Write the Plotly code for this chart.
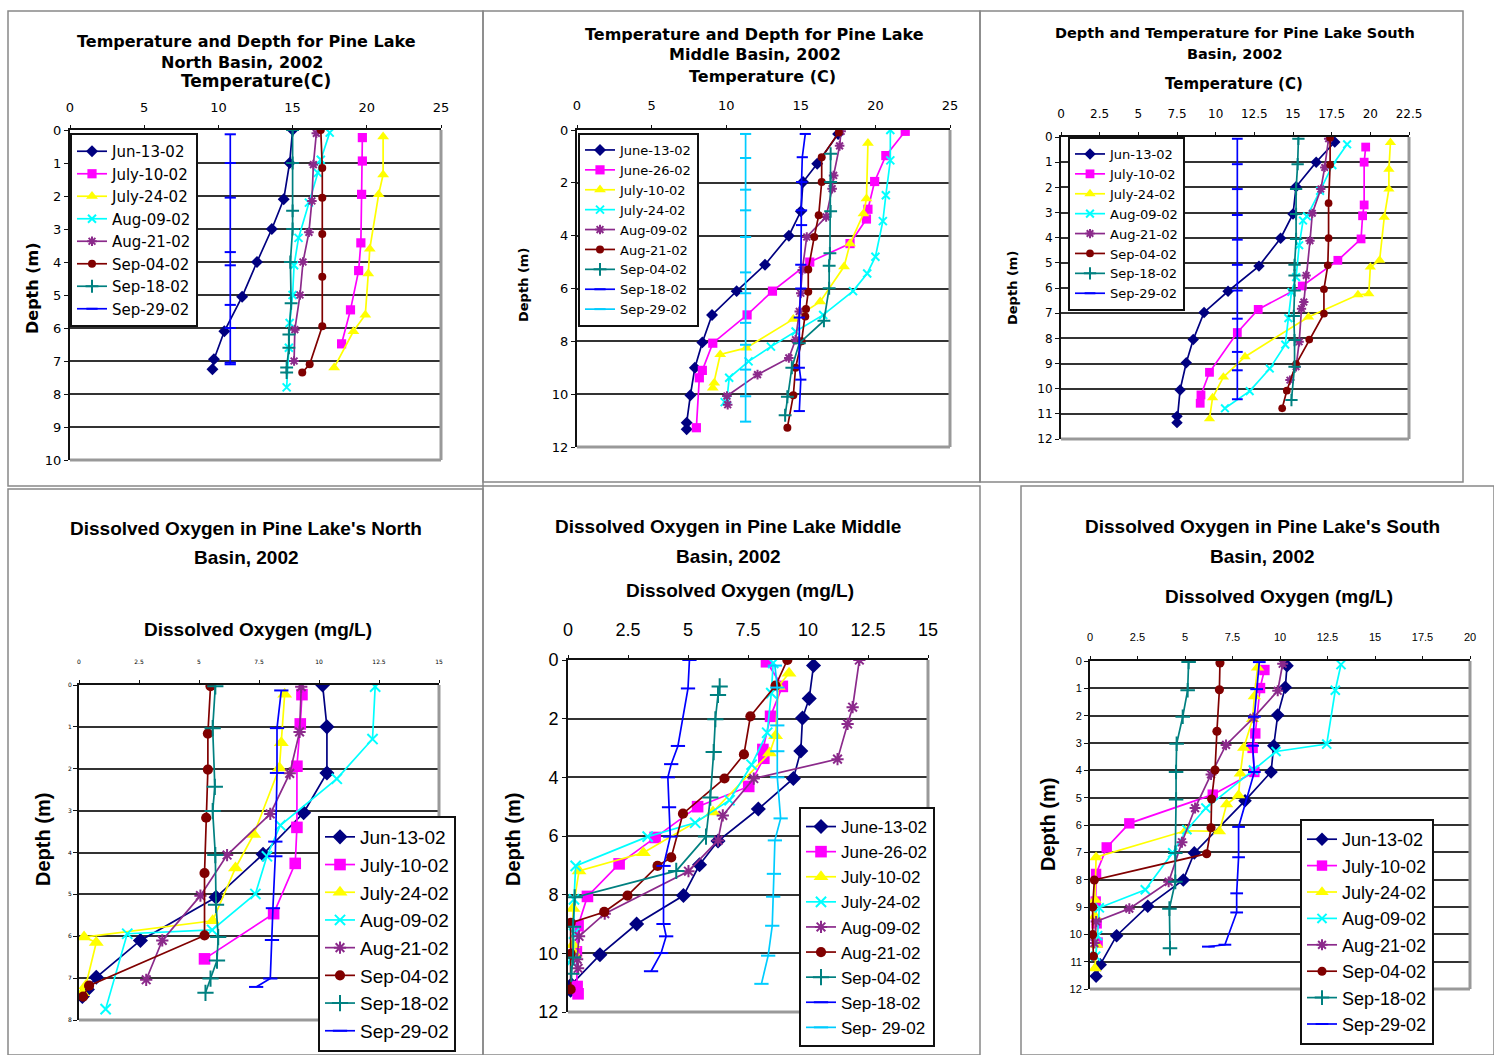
import plotly.graph_objects as go

W, H = 1494, 1055

# ================= DATA =================
# --- Panel 1: Temperature, North Basin (x = temperature C, y = depth m)
tn_dates = ["Jun-13-02", "July-10-02", "July-24-02", "Aug-09-02", "Aug-21-02", "Sep-04-02", "Sep-18-02", "Sep-29-02"]
tn_jun13_d = [0, 1.0, 2.1, 3.0, 4.0, 5.05, 6.1, 6.95, 7.25]
tn_jun13_v = [15.0, 14.8, 14.4, 13.6, 12.6, 11.6, 10.4, 9.7, 9.6]
tn_jul10_d = [0.23, 0.94, 1.95, 3.42, 4.26, 5.45, 6.48]
tn_jul10_v = [19.7, 19.7, 19.65, 19.6, 19.45, 18.9, 18.3]
tn_jul24_d = [0.2, 1.35, 1.95, 3.6, 4.35, 5.6, 6.1, 7.2]
tn_jul24_v = [21.1, 21.1, 20.8, 20.2, 20.1, 19.9, 19.1, 17.8]
tn_aug09_d = [0.08, 0.9, 1.3, 2.2, 3.27, 4.1, 5.0, 5.85, 6.6, 7.8]
tn_aug09_v = [17.5, 16.9, 16.7, 16.1, 15.4, 15.1, 15.0, 14.8, 14.75, 14.6]
tn_aug21_d = [0.1, 1.05, 2.15, 3.1, 4.0, 5.0, 6.05, 7.0]
tn_aug21_v = [16.6, 16.4, 16.3, 16.1, 15.7, 15.5, 15.15, 15.1]
tn_sep04_d = [0, 1.15, 2.05, 3.15, 4.45, 5.95, 7.1, 7.35]
tn_sep04_v = [16.9, 17.0, 17.0, 17.0, 17.0, 17.0, 16.15, 15.65]
tn_sep18_d = [0, 1.0, 2.45, 3.0, 4.0, 5.25, 6.2, 6.6, 7.2, 7.35]
tn_sep18_v = [15.0, 15.0, 15.0, 15.0, 14.85, 14.9, 14.75, 14.75, 14.6, 14.6]
tn_sep29_d = [0.13, 1.0, 2.05, 3.7, 4.1, 5.3, 6.0, 7.05, 7.1]
tn_sep29_v = [10.8, 10.8, 10.8, 10.8, 10.8, 10.8, 10.8, 10.8, 10.8]

# --- Panel 2: Temperature, Middle Basin
tm_dates = ["June-13-02", "June-26-02", "July-10-02", "July-24-02", "Aug-09-02", "Aug-21-02", "Sep-04-02", "Sep-18-02", "Sep-29-02"]
tm_jun13_d = [0.15, 1.28, 1.97, 3.08, 4.0, 5.1, 6.1, 7.0, 8.04, 9.0, 10.04, 11.08, 11.33]
tm_jun13_v = [17.5, 16.1, 15.15, 15.0, 14.2, 12.6, 10.7, 9.05, 8.4, 7.9, 7.6, 7.35, 7.35]
tm_jun26_d = [0.05, 0.97, 1.95, 3.0, 3.37, 4.3, 5.0, 6.1, 7.0, 8.07, 9.1, 9.38, 11.27]
tm_jun26_v = [22.0, 20.7, 19.95, 19.5, 19.4, 18.3, 15.6, 13.1, 11.4, 9.1, 8.4, 8.2, 8.0]
tm_jul10_d = [0.5, 2.6, 3.17, 4.3, 5.17, 6.5, 7.16, 8.25, 8.5, 9.57, 9.76]
tm_jul10_v = [19.5, 19.4, 19.2, 18.3, 17.9, 16.3, 14.5, 11.35, 9.6, 9.2, 9.1]
tm_jul24_d = [0, 1.15, 2.47, 3.45, 4.8, 5.43, 6.1, 7.0, 7.63, 8.2, 8.76, 9.38, 10.2, 10.3]
tm_jul24_v = [21.0, 21.0, 20.7, 20.5, 20.0, 19.45, 18.5, 16.5, 14.65, 13.0, 11.5, 10.2, 10.05, 9.9]
tm_aug09_d = [0.05, 0.6, 1.72, 2.22, 3.29, 4.05, 5.3, 6.18, 6.87, 7.94, 8.63, 9.26, 10.07, 10.4]
tm_aug09_v = [17.7, 17.6, 17.2, 17.1, 16.7, 15.4, 15.1, 15.0, 14.9, 14.65, 14.2, 12.1, 10.05, 10.1]
tm_aug21_d = [0.09, 1.03, 1.97, 3.23, 4.05, 5.28, 6.12, 6.78, 7.06, 8.0, 9.0, 10.04, 11.27]
tm_aug21_v = [17.55, 16.4, 16.4, 16.2, 15.9, 15.5, 15.5, 15.35, 15.3, 15.05, 14.65, 14.5, 14.1]
tm_sep04_d = [0.9, 1.97, 3.08, 4.67, 5.14, 5.99, 7.22, 8.07, 9.0, 10.1, 10.8]
tm_sep04_v = [17.0, 17.0, 17.0, 16.95, 16.9, 16.9, 16.55, 14.9, 14.4, 14.1, 13.95]
tm_sep18_d = [0.15, 1.03, 1.97, 3.04, 3.6, 5.1, 6.0, 7.1, 9.0, 9.45, 10.64]
tm_sep18_v = [15.3, 15.1, 15.05, 15.05, 15.05, 15.0, 15.0, 14.9, 14.9, 15.0, 14.9]
tm_sep29_d = [0.15, 1.06, 2.26, 3.04, 4.05, 5.39, 6.18, 7.3, 8.13, 9.07, 10.08, 11.04]
tm_sep29_v = [11.3, 11.3, 11.3, 11.3, 11.3, 11.3, 11.3, 11.3, 11.3, 11.3, 11.3, 11.3]

# --- Panel 3: Temperature, South Basin
ts_dates = ["Jun-13-02", "July-10-02", "July-24-02", "Aug-09-02", "Aug-21-02", "Sep-04-02", "Sep-18-02", "Sep-29-02"]
ts_jun13_d = [0.2, 1.0, 1.98, 3.06, 4.02, 5.13, 6.13, 6.97, 8.05, 8.97, 10.05, 11.1, 11.35]
ts_jun13_v = [17.7, 16.5, 15.2, 15.0, 14.2, 12.8, 10.8, 9.25, 8.55, 8.1, 7.7, 7.5, 7.5]
ts_jul10_d = [0.4, 1.0, 2.7, 3.13, 4.05, 4.9, 5.92, 6.85, 7.77, 9.35, 10.25, 10.58]
ts_jul10_v = [19.7, 19.6, 19.6, 19.5, 19.4, 17.9, 15.6, 12.75, 11.4, 9.6, 9.05, 9.0]
ts_jul24_d = [0.22, 1.28, 2.07, 3.19, 4.9, 5.17, 6.23, 6.27, 7.15, 8.73, 9.54, 10.36, 11.2]
ts_jul24_v = [21.3, 21.2, 21.2, 20.9, 20.6, 20.0, 19.9, 19.2, 16.0, 11.9, 10.5, 9.8, 9.6]
ts_aug09_d = [0.29, 1.12, 2.14, 3.15, 3.32, 4.3, 5.57, 6.16, 7.2, 8.25, 9.2, 10.1, 10.78]
ts_aug09_v = [18.5, 17.55, 16.75, 15.9, 15.65, 15.4, 15.2, 14.9, 14.7, 14.5, 13.5, 12.2, 10.6]
ts_aug21_d = [0.07, 1.21, 2.07, 3.03, 4.12, 5.5, 6.56, 6.82, 8.14, 9.13, 9.66]
ts_aug21_v = [17.3, 17.05, 16.8, 16.25, 16.1, 15.85, 15.7, 15.55, 15.4, 15.2, 14.8]
ts_sep04_d = [0.03, 1.1, 2.63, 4.02, 5.1, 6.05, 7.02, 8.05, 9.02, 10.08, 10.78]
ts_sep04_v = [17.4, 17.4, 17.3, 17.3, 17.25, 17.0, 17.0, 16.05, 15.2, 14.6, 14.3]
ts_sep18_d = [0.07, 1.08, 2.07, 3.06, 4.05, 5.08, 5.5, 6.1, 7.11, 8.07, 9.13, 10.45]
ts_sep18_v = [15.35, 15.3, 15.2, 15.2, 15.2, 15.1, 15.1, 15.1, 15.05, 15.1, 15.1, 14.9]
ts_sep29_d = [0.07, 1.08, 2.07, 3.1, 4.08, 5.08, 6.1, 7.22, 8.54, 9.27, 10.42]
ts_sep29_v = [11.4, 11.4, 11.4, 11.4, 11.4, 11.4, 11.4, 11.4, 11.4, 11.4, 11.4]

# --- Panel 4: Dissolved oxygen, North Basin (x = DO mg/L)
on_dates = ["Jun-13-02", "July-10-02", "July-24-02", "Aug-09-02", "Aug-21-02", "Sep-04-02", "Sep-18-02", "Sep-29-02"]
on_jun13_d = [0, 1.0, 2.1, 3.05, 4.04, 5.07, 6.1, 6.98, 7.27, 7.44]
on_jun13_v = [10.15, 10.33, 10.33, 9.36, 7.67, 5.71, 2.56, 0.72, 0.35, 0.14]
on_jul10_d = [0.23, 0.93, 1.94, 3.4, 4.26, 5.46, 6.54]
on_jul10_v = [9.29, 9.22, 9.08, 9.08, 9.01, 8.11, 5.23]
on_jul24_d = [0.22, 1.38, 1.98, 3.57, 4.37, 5.63, 6.02, 6.15, 7.18, 7.35]
on_jul24_v = [8.57, 8.43, 8.35, 7.28, 6.52, 5.57, 0.21, 0.72, 0.28, 0.14]
on_aug09_d = [0.04, 1.29, 2.24, 3.35, 4.09, 4.99, 5.85, 5.94, 7.74]
on_aug09_v = [12.34, 12.23, 10.74, 8.39, 7.83, 7.35, 5.55, 2.01, 1.11]
on_aug21_d = [0.04, 1.12, 2.11, 3.08, 4.06, 5.03, 6.1, 7.04]
on_aug21_v = [9.26, 9.19, 8.78, 7.97, 6.17, 5.06, 3.47, 2.8]
on_sep04_d = [0.03, 1.16, 2.02, 3.17, 4.49, 5.98, 7.18, 7.44]
on_sep04_v = [5.48, 5.37, 5.37, 5.3, 5.23, 5.23, 0.42, 0.17]
on_sep18_d = [0.03, 1.03, 2.43, 3.01, 4.06, 5.25, 6.02, 6.58, 7.01, 7.35]
on_sep18_v = [5.68, 5.57, 5.66, 5.57, 5.68, 5.71, 5.8, 5.75, 5.48, 5.27]
on_sep29_d = [0.13, 1.03, 2.1, 3.74, 4.09, 5.33, 6.09, 7.01, 7.21]
on_sep29_v = [8.43, 8.25, 8.25, 8.18, 8.18, 8.08, 8.04, 7.97, 7.38]

# --- Panel 5: Dissolved oxygen, Middle Basin
om_dates = ["June-13-02", "June-26-02", "July-10-02", "July-24-02", "Aug-09-02", "Aug-21-02", "Sep-04-02", "Sep-18-02", "Sep- 29-02"]
om_jun13_d = [0.19, 1.31, 1.98, 3.1, 4.04, 5.08, 6.17, 6.98, 8.03, 9.0, 10.05, 11.07, 11.26]
om_jun13_v = [10.23, 10.05, 9.77, 9.7, 9.39, 7.93, 6.25, 5.48, 4.81, 2.86, 1.33, 0.14, 0.11]
om_jun26_d = [0.06, 0.9, 1.92, 3.05, 3.35, 4.31, 5.0, 6.05, 6.95, 8.06, 9.06, 9.95, 11.13, 11.38]
om_jun26_v = [8.27, 8.93, 8.44, 8.12, 8.16, 7.53, 5.4, 3.63, 2.13, 0.81, 0.42, 0.35, 0.38, 0.42]
om_jul10_d = [0.45, 0.9, 2.58, 3.17, 5.18, 6.57, 7.19, 8.47, 9.71, 10.02]
om_jul10_v = [9.21, 8.76, 8.65, 8.4, 6.04, 3.14, 0.46, 0.21, 0.21, 0.28]
om_jul24_d = [0.1, 1.13, 2.48, 3.57, 4.78, 5.55, 6.02, 7.02, 8.16, 9.33, 10.14, 10.26]
om_jul24_v = [8.55, 8.47, 8.3, 7.65, 6.73, 5.3, 3.32, 0.32, 0.25, 0.25, 0.21, 0.14]
om_aug09_d = [0, 1.61, 2.18, 3.38, 4.04, 5.3, 6.15, 7.2, 8.65, 9.42, 10.2, 10.51]
om_aug09_v = [12.14, 11.86, 11.65, 11.23, 7.74, 6.45, 6.25, 5.02, 1.53, 0.46, 0.38, 0.42]
om_aug21_d = [0, 0.87, 1.92, 3.22, 4.04, 5.24, 6.73, 7.02, 8.03, 8.59, 8.96, 10.02, 11.23]
om_aug21_v = [9.14, 8.65, 7.6, 7.33, 6.52, 4.79, 4.3, 3.73, 2.48, 1.51, 0.11, 0.11, 0.11]
om_sep04_d = [0.9, 1.19, 2.02, 3.14, 4.69, 6.02, 7.19, 8.09, 9.09, 10.14, 10.7]
om_sep04_v = [6.32, 6.25, 6.14, 6.07, 5.93, 5.75, 4.51, 0.28, 0.21, 0.21, 0.14]
om_sep18_d = [0, 0.97, 2.93, 3.55, 4.0, 5.02, 6.02, 7.02, 9.0, 9.42, 9.99, 10.61]
om_sep18_v = [5.06, 5.0, 4.58, 4.3, 4.16, 4.21, 4.26, 3.98, 3.98, 4.09, 3.88, 3.46]
om_sep29_d = [0.19, 0.94, 2.23, 3.11, 4.0, 5.4, 6.15, 7.29, 8.07, 9.06, 10.08, 11.04]
om_sep29_v = [8.62, 8.72, 8.72, 8.72, 8.72, 8.86, 8.62, 8.58, 8.55, 8.51, 8.34, 8.06]

# --- Panel 6: Dissolved oxygen, South Basin
os_dates = ["Jun-13-02", "July-10-02", "July-24-02", "Aug-09-02", "Aug-21-02", "Sep-04-02", "Sep-18-02", "Sep-29-02"]
os_jun13_d = [0.17, 0.96, 1.98, 3.1, 4.06, 5.11, 7.02, 8.01, 8.97, 10.05, 11.11, 11.53]
os_jun13_v = [10.37, 10.28, 9.88, 9.67, 9.53, 8.16, 5.49, 4.91, 3.04, 1.4, 0.54, 0.32]
os_jul10_d = [0.33, 0.99, 2.65, 3.18, 4.06, 4.89, 5.94, 6.82, 7.79, 8.8, 9.6, 10.3]
os_jul10_v = [9.18, 8.95, 8.7, 8.56, 8.65, 6.46, 2.07, 0.88, 0.32, 0.3, 0.35, 0.4]
os_jul24_d = [0.24, 1.29, 2.12, 3.18, 4.12, 4.91, 5.24, 6.23, 6.21, 7.18, 8.74, 9.33, 10.38, 11.24]
os_jul24_v = [8.82, 8.65, 8.56, 8.09, 7.91, 7.82, 7.19, 6.81, 5.02, 0.32, 0.26, 0.26, 0.35, 0.26]
os_aug09_d = [0.13, 1.07, 3.04, 3.31, 3.99, 5.38, 6.17, 7.02, 8.37, 9.03, 10.05, 10.8]
os_aug09_v = [13.21, 12.91, 12.46, 9.79, 8.6, 6.1, 5.1, 4.35, 2.91, 0.49, 0.4, 0.3]
os_aug21_d = [0.1, 1.09, 2.08, 3.07, 4.15, 5.38, 6.63, 8.08, 9.06, 9.53, 10.32]
os_aug21_v = [10.14, 9.88, 8.6, 7.16, 6.37, 5.53, 4.84, 4.14, 2.07, 0.32, 0.23]
os_sep04_d = [0.07, 1.05, 2.57, 3.99, 5.05, 6.1, 7.05, 8.01, 9.0, 10.01, 10.8]
os_sep04_v = [6.84, 6.81, 6.68, 6.58, 6.4, 6.37, 6.14, 0.23, 0.14, 0.14, 0.18]
os_sep18_d = [0.04, 1.07, 2.04, 3.03, 4.06, 5.07, 7.02, 8.08, 9.06, 10.51]
os_sep18_v = [5.19, 5.14, 4.88, 4.56, 4.53, 4.53, 4.49, 4.49, 4.18, 4.21]
os_sep29_d = [0.04, 1.03, 2.04, 3.1, 4.06, 6.07, 7.18, 8.5, 9.2, 10.38, 10.45]
os_sep29_v = [8.91, 8.77, 8.65, 8.56, 8.65, 7.82, 7.82, 7.72, 7.72, 7.1, 6.23]

# ================= STYLES =================
NAVY, MAG, YEL, CYAN, PURP, DRED, TEAL, BLUE, SKY = (
    "#000080", "#FF00FF", "#FFFF00", "#00FFFF", "#8B2A8B", "#800000", "#008080", "#0000FF", "#00CCFF")
ST = {
    "navy": dict(color=NAVY, symbol="diamond", size=8, open=False),
    "mag": dict(color=MAG, symbol="square", size=8, open=False),
    "yel": dict(color=YEL, symbol="triangle-up", size=9, open=False),
    "cyan": dict(color=CYAN, symbol="x-thin", size=7, open=True),
    "purp": dict(color=PURP, symbol="asterisk", size=7, open=True),
    "dred": dict(color=DRED, symbol="circle", size=7, open=False),
    "teal": dict(color=TEAL, symbol="cross-thin", size=8, open=True),
    "blue": dict(color=BLUE, symbol="line-ew", size=7, open=True),
    "sky": dict(color=SKY, symbol="line-ew", size=7, open=True),
}
keys8 = ["navy", "mag", "yel", "cyan", "purp", "dred", "teal", "blue"]
keys9 = ["navy", "mag", "yel", "cyan", "purp", "dred", "teal", "blue", "sky"]

SANS = "DejaVu Sans"
ARIAL = "Liberation Sans, Arial"

panels = [
    dict(dates=tn_dates, keys=keys8,
         series=[(tn_jun13_v, tn_jun13_d), (tn_jul10_v, tn_jul10_d), (tn_jul24_v, tn_jul24_d), (tn_aug09_v, tn_aug09_d),
                 (tn_aug21_v, tn_aug21_d), (tn_sep04_v, tn_sep04_d), (tn_sep18_v, tn_sep18_d), (tn_sep29_v, tn_sep29_d)],
         box=(70, 130, 441, 460), xr=25, xd=5, yr=10, yd=1, tickfont=dict(family=SANS, size=13), so=8,
         legend=dict(x=70, y=133, anchor="top", font=dict(family=SANS, size=15)), ms=1.15),
    dict(dates=tm_dates, keys=keys9,
         series=[(tm_jun13_v, tm_jun13_d), (tm_jun26_v, tm_jun26_d), (tm_jul10_v, tm_jul10_d), (tm_jul24_v, tm_jul24_d),
                 (tm_aug09_v, tm_aug09_d), (tm_aug21_v, tm_aug21_d), (tm_sep04_v, tm_sep04_d), (tm_sep18_v, tm_sep18_d),
                 (tm_sep29_v, tm_sep29_d)],
         box=(577, 130, 950, 447), xr=25, xd=5, yr=12, yd=2, tickfont=dict(family=SANS, size=13), so=10,
         legend=dict(x=578, y=133, anchor="top", font=dict(family=SANS, size=13)), ms=1.15),
    dict(dates=ts_dates, keys=keys8,
         series=[(ts_jun13_v, ts_jun13_d), (ts_jul10_v, ts_jul10_d), (ts_jul24_v, ts_jul24_d), (ts_aug09_v, ts_aug09_d),
                 (ts_aug21_v, ts_aug21_d), (ts_sep04_v, ts_sep04_d), (ts_sep18_v, ts_sep18_d), (ts_sep29_v, ts_sep29_d)],
         box=(1061, 137, 1409, 439), xr=22.5, xd=2.5, yr=12, yd=1, tickfont=dict(family=SANS, size=12), so=9,
         legend=dict(x=1068, y=137, anchor="top", font=dict(family=SANS, size=13)), ms=1.1),
    dict(dates=on_dates, keys=keys8,
         series=[(on_jun13_v, on_jun13_d), (on_jul10_v, on_jul10_d), (on_jul24_v, on_jul24_d), (on_aug09_v, on_aug09_d),
                 (on_aug21_v, on_aug21_d), (on_sep04_v, on_sep04_d), (on_sep18_v, on_sep18_d), (on_sep29_v, on_sep29_d)],
         box=(79, 685, 439, 1020), xr=15, xd=2.5, yr=8, yd=1, tickfont=dict(family=SANS, size=6), so=14,
         legend=dict(x=318, y=1052, anchor="bottom", font=dict(family=ARIAL, size=19)), ms=1.45),
    dict(dates=om_dates, keys=keys9,
         series=[(om_jun13_v, om_jun13_d), (om_jun26_v, om_jun26_d), (om_jul10_v, om_jul10_d), (om_jul24_v, om_jul24_d),
                 (om_aug09_v, om_aug09_d), (om_aug21_v, om_aug21_d), (om_sep04_v, om_sep04_d), (om_sep18_v, om_sep18_d),
                 (om_sep29_v, om_sep29_d)],
         box=(568, 660, 928, 1012), xr=15, xd=2.5, yr=12, yd=2, tickfont=dict(family=ARIAL, size=18), so=12,
         legend=dict(x=799, y=1047, anchor="bottom", font=dict(family=ARIAL, size=17)), ms=1.45),
    dict(dates=os_dates, keys=keys8,
         series=[(os_jun13_v, os_jun13_d), (os_jul10_v, os_jul10_d), (os_jul24_v, os_jul24_d), (os_aug09_v, os_aug09_d),
                 (os_aug21_v, os_aug21_d), (os_sep04_v, os_sep04_d), (os_sep18_v, os_sep18_d), (os_sep29_v, os_sep29_d)],
         box=(1090, 661, 1470, 989), xr=20, xd=2.5, yr=12, yd=1, tickfont=dict(family=ARIAL, size=11), so=11,
         legend=dict(x=1300, y=1045, anchor="bottom", font=dict(family=ARIAL, size=18)), ms=1.3),
]

fig = go.Figure()
layout = dict(width=W, height=H, margin=dict(l=0, r=0, t=0, b=0, pad=0, autoexpand=False),
              paper_bgcolor="white", plot_bgcolor="white", showlegend=True, autosize=False)
shapes = []
annotations = []


def px(x):
    return x / W


def py(y):
    return 1 - y / H


for i, p in enumerate(panels, start=1):
    xa = "x" if i == 1 else f"x{i}"
    ya = "y" if i == 1 else f"y{i}"
    lg = "legend" if i == 1 else f"legend{i}"
    for name, key, (vals, deps) in zip(p["dates"], p["keys"], p["series"]):
        s = ST[key]
        marker = dict(symbol=s["symbol"], size=round(s["size"] * p["ms"], 1), color=s["color"],
                      line=dict(color=s["color"], width=2 if s["open"] else 0))
        fig.add_trace(go.Scatter(x=vals, y=deps, mode="lines+markers", name=name,
                                 line=dict(color=s["color"], width=1.7), marker=marker,
                                 xaxis=xa, yaxis=ya, legend=lg))
    x0, y0, x1, y1 = p["box"]
    axk = "xaxis" if i == 1 else f"xaxis{i}"
    ayk = "yaxis" if i == 1 else f"yaxis{i}"
    layout[axk] = dict(domain=[px(x0), px(x1)], anchor=ya, side="top", range=[0, p["xr"]], dtick=p["xd"],
                       tick0=0, showgrid=False, zeroline=False, showline=True, linecolor="#111", linewidth=2,
                       ticks="outside", ticklen=3, tickcolor="#111", tickfont=dict(color="#000", **p["tickfont"]),
                       ticklabelstandoff=p["so"], fixedrange=True, automargin=False)
    layout[ayk] = dict(domain=[py(y1), py(y0)], anchor=xa, range=[p["yr"], 0], dtick=p["yd"], tick0=0,
                       showgrid=True, gridcolor="#333", gridwidth=2, zeroline=False, showline=True,
                       linecolor="#111", linewidth=2, ticks="outside", ticklen=4, tickcolor="#111",
                       tickfont=dict(color="#000", **p["tickfont"]), fixedrange=True, automargin=False)
    shapes.append(dict(type="line", xref=f"{xa} domain", yref=f"{ya} domain", x0=1, x1=1, y0=0, y1=1,
                       line=dict(color="#999", width=3), layer="above"))
    shapes.append(dict(type="line", xref=f"{xa} domain", yref=f"{ya} domain", x0=0, x1=1, y0=0, y1=0,
                       line=dict(color="#999", width=3), layer="above"))
    lgd = p["legend"]
    layout[lg] = dict(x=px(lgd["x"]), y=py(lgd["y"]), xanchor="left", yanchor=lgd["anchor"], bgcolor="white",
                      bordercolor="#111", borderwidth=2, font=dict(color="#000", **lgd["font"]),
                      tracegroupgap=0, itemwidth=30)

# panel frames
for (a, b, c, d) in [(8, 11, 483, 486), (483, 11, 980, 482), (980, 11, 1463, 482),
                     (8, 489, 483, 1055), (483, 486, 980, 1055), (1021, 486, 1494, 1055)]:
    shapes.append(dict(type="rect", xref="paper", yref="paper", x0=px(a), x1=px(c), y0=py(d), y1=py(b),
                       line=dict(color="#888", width=1.5), layer="below"))

TT = dict(family=SANS, size=16, color="#000")
BT = dict(family=ARIAL, size=19, color="#000")


def ann(text, x, y, font, angle=0):
    annotations.append(dict(text=text, x=px(x), y=py(y), xref="paper", yref="paper", showarrow=False,
                            xanchor="center", yanchor="middle", font=font, textangle=angle))


ann("<b>Temperature and Depth for Pine Lake</b>", 246, 42, TT)
ann("<b>North Basin, 2002</b>", 242, 62, TT)
ann("<b>Temperature(C)</b>", 256, 81, dict(TT, size=17))
ann("<b>Temperature and Depth for Pine Lake</b>", 755, 34, TT)
ann("<b>Middle Basin, 2002</b>", 755, 55, TT)
ann("<b>Temperature (C)</b>", 762, 77, TT)
ann("<b>Depth and Temperature for Pine Lake South</b>", 1235, 33, dict(TT, size=14.5))
ann("<b>Basin, 2002</b>", 1235, 54, dict(TT, size=14.5))
ann("<b>Temperature (C)</b>", 1234, 84, dict(TT, size=15))
ann("<b>Depth (m)</b>", 33, 288, dict(TT, size=16), -90)
ann("<b>Depth (m)</b>", 523, 285, dict(TT, size=13), -90)
ann("<b>Depth (m)</b>", 1013, 288, dict(TT, size=13), -90)

ann("<b>Dissolved Oxygen in Pine Lake's North</b>", 246, 528, BT)
ann("<b>Basin, 2002</b>", 246, 557, BT)
ann("<b>Dissolved Oxygen (mg/L)</b>", 258, 629, BT)
ann("<b>Dissolved Oxygen in Pine Lake Middle</b>", 728, 526, BT)
ann("<b>Basin, 2002</b>", 728, 556, BT)
ann("<b>Dissolved Oxygen (mg/L)</b>", 740, 590, BT)
ann("<b>Dissolved Oxygen in Pine Lake's South</b>", 1262, 526, BT)
ann("<b>Basin, 2002</b>", 1262, 556, BT)
ann("<b>Dissolved Oxygen (mg/L)</b>", 1279, 596, BT)
ann("<b>Depth (m)</b>", 43, 840, dict(BT, size=20), -90)
ann("<b>Depth (m)</b>", 513, 840, dict(BT, size=20), -90)
ann("<b>Depth (m)</b>", 1048, 825, dict(BT, size=20), -90)

layout["shapes"] = shapes
layout["annotations"] = annotations
fig.update_layout(**layout)
fig.write_html("out.html", config={"responsive": False, "displayModeBar": False},
               post_script="document.body.style.margin='0';document.body.style.overflow='hidden';")
